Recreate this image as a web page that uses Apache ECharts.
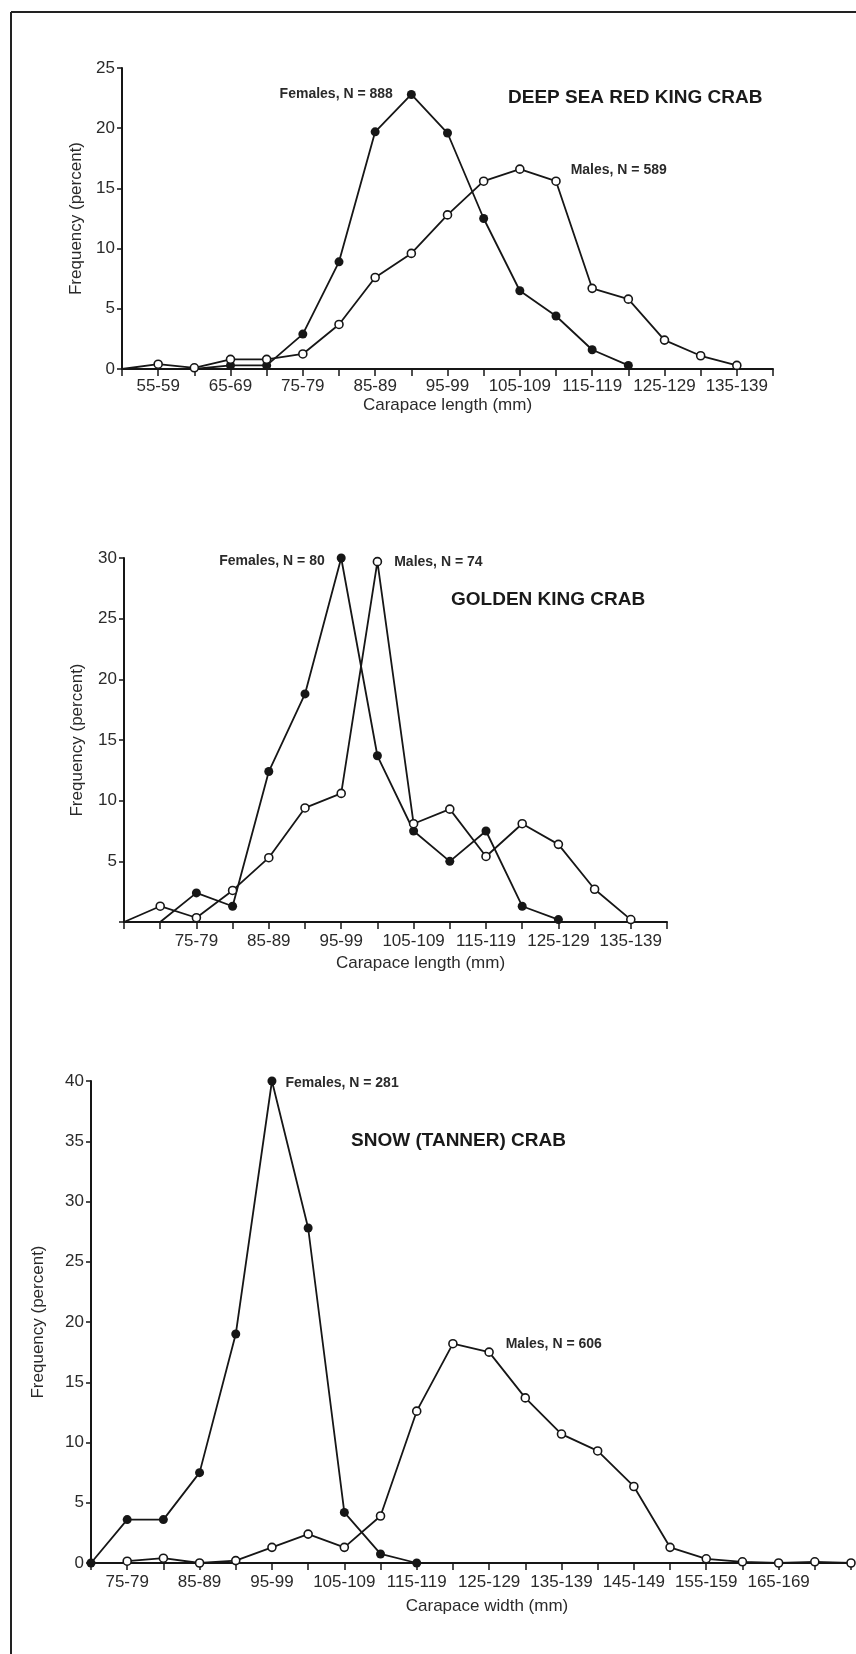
<!DOCTYPE html>
<html>
<head>
<meta charset="utf-8">
<script src="https://cdn.jsdelivr.net/npm/echarts@6/dist/echarts.min.js"></script>
<style>
	html, body { margin: 0; padding: 0; background: #fff; }
	#chart { width: 856px; height: 1654px; }
</style>
</head>
<body>
<div id="chart"></div>
<script>
	// deep sea red king crab (carapace length)
	const topCats = ["50-54", "55-59", "60-64", "65-69", "70-74", "75-79", "80-84", "85-89", "90-94", "95-99",
		"100-104", "105-109", "110-114", "115-119", "120-124", "125-129", "130-134", "135-139", "140-144"];
	const topFemales = [0, 0, 0, 0.3, 0.3, 2.9, 8.9, 19.7, 22.8, 19.6, 12.5, 6.5, 4.4, 1.6, 0.3, null, null, null, null];
	const topMales = [0, 0.4, 0.1, 0.8, 0.8, 1.25, 3.7, 7.6, 9.6, 12.8, 15.6, 16.6, 15.6, 6.7, 5.8, 2.4, 1.1, 0.3, null];

	// golden king crab (carapace length)
	const midCats = ["65-69", "70-74", "75-79", "80-84", "85-89", "90-94", "95-99", "100-104", "105-109",
		"110-114", "115-119", "120-124", "125-129", "130-134", "135-139", "140-144"];
	const midFemales = [null, 0, 2.4, 1.3, 12.4, 18.8, 30.0, 13.7, 7.5, 5.0, 7.5, 1.3, 0.2, null, null, null];
	const midMales = [0, 1.3, 0.35, 2.6, 5.3, 9.4, 10.6, 29.7, 8.1, 9.3, 5.4, 8.1, 6.4, 2.7, 0.2, null];

	// snow (tanner) crab (carapace width)
	const botCats = ["70-74", "75-79", "80-84", "85-89", "90-94", "95-99", "100-104", "105-109", "110-114",
		"115-119", "120-124", "125-129", "130-134", "135-139", "140-144", "145-149", "150-154", "155-159",
		"160-164", "165-169", "170-174", "175-179"];
	const botFemales = [0, 3.6, 3.6, 7.5, 19.0, 40.0, 27.8, 4.2, 0.75, 0, null, null, null, null, null, null, null, null, null, null, null, null];
	const botMales = [null, 0.15, 0.4, 0, 0.2, 1.3, 2.4, 1.3, 3.9, 12.6, 18.2, 17.5, 13.7, 10.7, 9.3, 6.35, 1.3, 0.35, 0.1, 0, 0.1, 0];

	// points that are only line joints (no marker)
	const topFemalesNoMark = [0, 1, 2];
	const topMalesNoMark = [0];
	const midFemalesNoMark = [1];
	const midMalesNoMark = [0];

	const titles = ["DEEP SEA RED KING CRAB", "GOLDEN KING CRAB", "SNOW (TANNER) CRAB"];

	const INK = "#161616";
	const TXT = "#2a2a2a";
	const FONT = "'Liberation Sans', Arial, sans-serif";

	const buildData = (values, noMark, note) =>
		values.map((v, i) => {
			const item = { value: v };
			if (noMark && noMark.includes(i)) item.symbol = "none";
			if (note && note.index === i) {
				item.label = {
					show: true,
					formatter: note.text,
					position: note.position,
					distance: note.distance,
					offset: note.offset || [0, 0],
					color: TXT,
					fontFamily: FONT,
					fontSize: 14,
					fontWeight: "bold"
				};
			}
			return item;
		});

	const femaleSeries = (idx, values, noMark, note) => ({
		type: "line",
		xAxisIndex: idx,
		yAxisIndex: idx,
		data: buildData(values, noMark, note),
		symbol: "circle",
		symbolSize: 9,
		lineStyle: { color: INK, width: 1.8 },
		itemStyle: { color: INK },
		z: 3
	});

	const maleSeries = (idx, values, noMark, note) => ({
		type: "line",
		xAxisIndex: idx,
		yAxisIndex: idx,
		data: buildData(values, noMark, note),
		symbol: "circle",
		symbolSize: 8,
		lineStyle: { color: INK, width: 1.8 },
		itemStyle: { color: "#fff", borderColor: INK, borderWidth: 1.6 },
		z: 4
	});

	const xAxis = (idx, cats, name, show, margin, nameGap, shift) => ({
		type: "category",
		gridIndex: idx,
		data: cats,
		boundaryGap: false,
		name: name,
		nameLocation: "middle",
		nameGap: nameGap,
		nameTextStyle: { color: TXT, fontFamily: FONT, fontSize: 17, padding: [0, 0, 0, shift] },
		axisLine: { lineStyle: { color: INK, width: 2 } },
		axisTick: { show: true, interval: 0, length: 7, lineStyle: { color: INK, width: 1.5 } },
		axisLabel: {
			interval: show,
			margin: margin,
			color: TXT,
			fontFamily: FONT,
			fontSize: 17
		},
		splitLine: { show: false }
	});

	const yAxis = (idx, max, nameGap, hideZero) => ({
		type: "value",
		gridIndex: idx,
		min: 0,
		max: max,
		interval: 5,
		name: "Frequency (percent)",
		nameLocation: "middle",
		nameGap: nameGap,
		nameTextStyle: { color: TXT, fontFamily: FONT, fontSize: 17 },
		axisLine: { show: true, lineStyle: { color: INK, width: 2 } },
		axisTick: { show: true, length: 5, lineStyle: { color: INK, width: 1.5 } },
		axisLabel: {
			margin: 7,
			color: TXT,
			fontFamily: FONT,
			fontSize: 17,
			formatter: v => (hideZero && v === 0 ? "" : String(v))
		},
		splitLine: { show: false }
	});

	const chart = echarts.init(document.getElementById("chart"), null, { renderer: "canvas" });

	const option = {
		backgroundColor: "#fff",
		animation: false,
		title: [
			{ text: titles[0], left: 508, top: 88 },
			{ text: titles[1], left: 451, top: 590 },
			{ text: titles[2], left: 351, top: 1131 }
		].map(t => ({
			...t,
			padding: 0,
			textStyle: { color: "#1a1a1a", fontFamily: FONT, fontSize: 19, fontWeight: "bold" }
		})),
		grid: [
			{ left: 122, top: 68, width: 651, height: 301 },
			{ left: 124, top: 558, width: 543, height: 364 },
			{ left: 91, top: 1081, width: 760, height: 482 }
		],
		xAxis: [
			xAxis(0, topCats, "Carapace length (mm)", i => i % 2 === 1, 9, 28, 0),
			xAxis(1, midCats, "Carapace length (mm)", i => i % 2 === 0 && i > 0, 11, 33, 50),
			xAxis(2, botCats, "Carapace width (mm)", i => i % 2 === 1 && i < 21, 11, 35, 32)
		],
		yAxis: [yAxis(0, 25, 36, false), yAxis(1, 30, 38, true), yAxis(2, 40, 44, false)],
		series: [
			femaleSeries(0, topFemales, topFemalesNoMark, { index: 8, text: "Females, N = 888", position: "left", distance: 14 }),
			maleSeries(0, topMales, topMalesNoMark, { index: 11, text: "Males, N = 589", position: "right", distance: 46, offset: [0, 1] }),
			femaleSeries(1, midFemales, midFemalesNoMark, { index: 6, text: "Females, N = 80", position: "left", distance: 12, offset: [0, 3] }),
			maleSeries(1, midMales, midMalesNoMark, { index: 7, text: "Males, N = 74", position: "right", distance: 12, offset: [0, 1] }),
			femaleSeries(2, botFemales, null, { index: 5, text: "Females, N = 281", position: "right", distance: 9, offset: [0, 2] }),
			maleSeries(2, botMales, null, { index: 10, text: "Males, N = 606", position: "right", distance: 48 })
		],
		graphic: [
			{ type: "line", shape: { x1: 11, y1: 12, x2: 856, y2: 12 }, style: { stroke: "#222", lineWidth: 2 } },
			{ type: "line", shape: { x1: 11, y1: 12, x2: 11, y2: 1654 }, style: { stroke: "#222", lineWidth: 2 } }
		]
	};

	chart.setOption(option);
	window.addEventListener("resize", () => chart.resize());
</script>
</body>
</html>
